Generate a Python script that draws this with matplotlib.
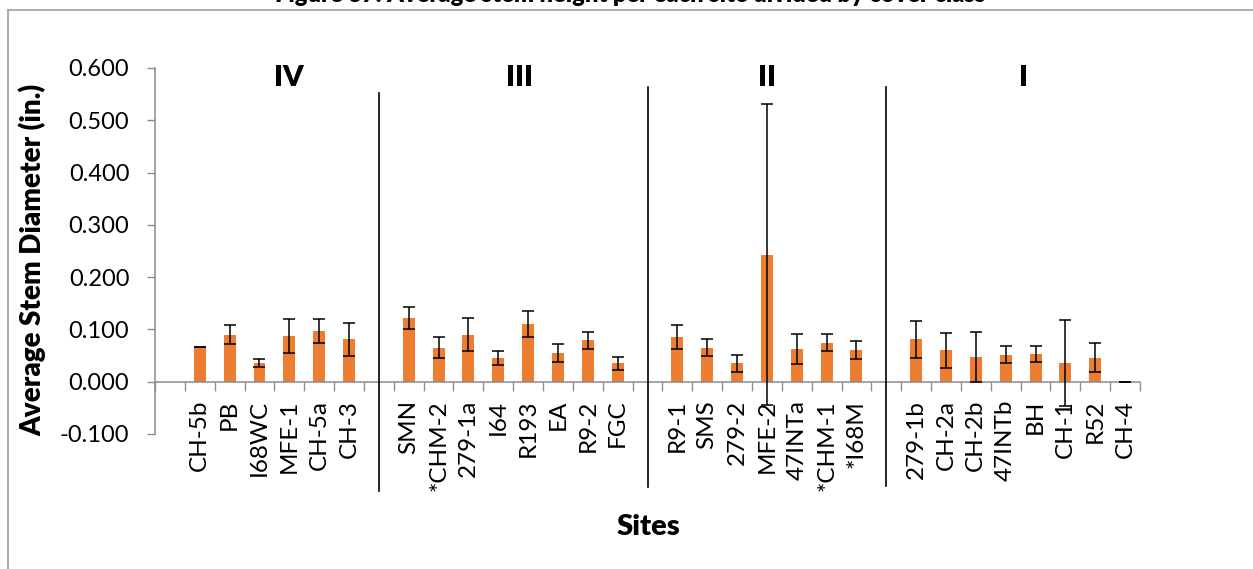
import numpy as np
import matplotlib
matplotlib.use("Agg")
import matplotlib.pyplot as plt
from matplotlib.lines import Line2D

# sites grouped by cover class, in plotting order
cover_classes = ["IV", "III", "II", "I"]
sites = [
    ["CH-5b", "PB", "I68WC", "MFE-1", "CH-5a", "CH-3"],
    ["SMN", "*CHM-2", "279-1a", "I64", "R193", "EA", "R9-2", "FGC"],
    ["R9-1", "SMS", "279-2", "MFE-2", "47INTa", "*CHM-1", "*I68M"],
    ["279-1b", "CH-2a", "CH-2b", "47INTb", "BH", "CH-1", "R52", "CH-4"],
]
mean_diam = [
    [0.066, 0.090, 0.036, 0.087, 0.097, 0.081],
    [0.122, 0.065, 0.090, 0.045, 0.111, 0.055, 0.079, 0.035],
    [0.085, 0.065, 0.035, 0.243, 0.062, 0.075, 0.061],
    [0.081, 0.060, 0.048, 0.052, 0.053, 0.036, 0.046, 0.000],
]
err_diam = [
    [0.000, 0.018, 0.008, 0.033, 0.023, 0.031],
    [0.021, 0.020, 0.032, 0.013, 0.025, 0.018, 0.017, 0.012],
    [0.023, 0.016, 0.016, 0.288, 0.029, 0.016, 0.017],
    [0.036, 0.033, 0.048, 0.016, 0.016, 0.082, 0.028, 0.000],
]
y_ticks = [-0.1, 0.0, 0.1, 0.2, 0.3, 0.4, 0.5, 0.6]

W, H = 1253, 569
FONT = "Lato"
ORANGE = "#ED7D31"
GRAY = "#8c8c8c"

plt.rcParams["font.family"] = [FONT, "DejaVu Sans"]

fig = plt.figure(figsize=(W / 100, H / 100), dpi=100)
ax = fig.add_axes([155 / W, 1 - 434 / H, (1140 - 155) / W, (434 - 68) / H])

# one empty slot in front of every cover class; dividers sit in the gaps
xs, means, errs, labels, gaps = [], [], [], [], []
slot = 0
for g, names in enumerate(sites):
    if g > 0:
        gaps.append(slot)
    slot += 1
    pos = list(range(slot, slot + len(names)))
    xs += pos
    means += mean_diam[g]
    errs += err_diam[g]
    labels += names
    slot += len(names)

ax.bar(xs, means, width=0.4, color=ORANGE, zorder=2)
ax.errorbar(xs, means, yerr=errs, fmt="none", ecolor="black",
            elinewidth=1.1, capsize=4.3, capthick=1.1, zorder=3)

ax.set_xlim(-0.5, slot - 0.5)
ax.set_ylim(-0.1, 0.6)

# vertical lines between cover classes, running down through the labels
div_top = [0.553, 0.564, 0.564]
div_bot = [-0.209, -0.202, -0.200]
for gx, t, b in zip(gaps, div_top, div_bot):
    ax.plot([gx, gx], [b, t], color="black", lw=1.2, clip_on=False, zorder=4)

# cover class headings
head_x = [4.0, 11.7, 20.0, 28.6]
for name, hx in zip(cover_classes, head_x):
    ax.text(hx, 0.581, name, ha="center", va="center",
            fontsize=21, fontweight="heavy")

for s in ["top", "right"]:
    ax.spines[s].set_visible(False)
ax.spines["left"].set_color(GRAY)
ax.spines["bottom"].set_color(GRAY)
ax.spines["bottom"].set_position(("data", 0))
ax.spines["left"].set_linewidth(1.1)
ax.spines["bottom"].set_linewidth(1.1)

ax.set_yticks(y_ticks)
ax.set_yticklabels([f"{v:.3f}" for v in y_ticks])
ax.tick_params(axis="y", direction="out", length=5.5, width=1.0,
               color=GRAY, pad=13, labelsize=17)

ax.set_xticks(xs)
ax.set_xticklabels(labels, rotation=90, va="top", ha="center")
ax.set_xticks(np.arange(-0.5, slot, 1.0), minor=True)
ax.tick_params(axis="x", which="major", length=0, pad=13, labelsize=17.5)
ax.tick_params(axis="x", which="minor", direction="out", length=6.5,
               width=1.0, color=GRAY)

fig.text(33 / W, 1 - 260 / H, "Average Stem Diameter (in.)", rotation=90,
         ha="center", va="center", fontsize=20, fontweight="heavy")
fig.text(648 / W, 1 - 527 / H, "Sites", ha="center", va="center",
         fontsize=21, fontweight="heavy")
fig.text(630 / W, 1 - 2 / H,
         "Figure 37: Average stem height per each site divided by cover class",
         ha="center", va="baseline", fontsize=17, fontweight="heavy")

# chart frame
fig.add_artist(Line2D([7.5 / W, 7.5 / W], [0, 1 - 9.5 / H],
                      transform=fig.transFigure, color="#a6a6a6", lw=1.3))
fig.add_artist(Line2D([7.5 / W, 1], [1 - 9.5 / H, 1 - 9.5 / H],
                      transform=fig.transFigure, color="#a6a6a6", lw=1.3))

fig.savefig("out.png", dpi=100)
